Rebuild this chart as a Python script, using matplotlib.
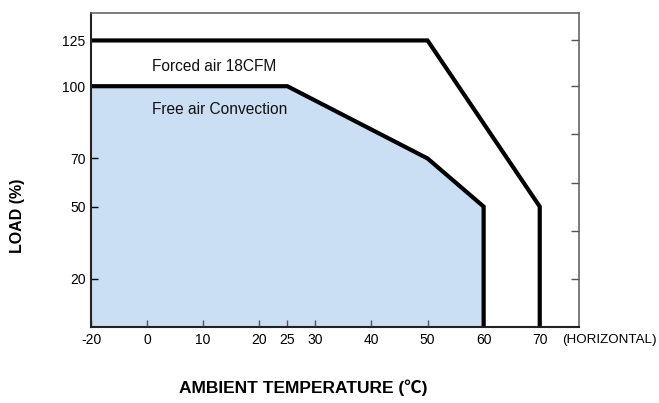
import numpy as np
import matplotlib
matplotlib.use("Agg")
import matplotlib.pyplot as plt

plt.rcParams['font.family'] = ['Liberation Sans', 'Noto Sans CJK SC', 'DejaVu Sans']

# derating curves (ambient temp in C, load in %)
forced_temp = [-20, 50, 70, 70]
forced_load = [125, 125, 50, 0]
free_temp = [-20, 25, 50, 60, 60]
free_load = [100, 100, 70, 50, 0]

x_ticks = [-20, 0, 10, 20, 25, 30, 40, 50, 60, 70]
y_ticks = [20, 50, 70, 100, 125]
y_ticks_right = [20, 40, 60, 80, 100, 125]

# the original chart squeezes -20..0 and 100..125
def fx(x):
    x = np.asarray(x, dtype=float)
    return np.where(x < 0, x / 2, x)

def fx_inv(x):
    x = np.asarray(x, dtype=float)
    return np.where(x < 0, x * 2, x)

def fy(y):
    y = np.asarray(y, dtype=float)
    return np.where(y > 100, 100 + (y - 100) * 0.76, y)

def fy_inv(y):
    y = np.asarray(y, dtype=float)
    return np.where(y > 100, 100 + (y - 100) / 0.76, y)

fig = plt.figure(figsize=(6.59, 4.03), dpi=100)
ax = fig.add_axes([91/659, 1 - 327/403, 488/659, 314/403])
ax.set_xscale('function', functions=(fx, fx_inv))
ax.set_yscale('function', functions=(fy, fy_inv))
ax.set_xlim(-20, 77)
ax.set_ylim(0, 140)

ax.fill_between(free_temp, free_load, 0, color='#cadff3', lw=0)
ax.plot(free_temp, free_load, color='black', lw=3.0, solid_joinstyle='miter')
ax.plot(forced_temp, forced_load, color='black', lw=3.0, solid_joinstyle='miter')

ax.text(0.8, 111, 'Forced air 18CFM', fontsize=11.2, va='center', ha='left',
        color='#111111')
ax.text(0.8, 90.5, 'Free air Convection', fontsize=11.2, va='center', ha='left',
        color='#111111')

ax.set_xticks(x_ticks)
ax.set_xticklabels([str(t) for t in x_ticks])
ax.set_yticks(y_ticks)
ax.set_yticklabels([str(t) for t in y_ticks])
ax.minorticks_off()
ax.tick_params(direction='in', length=5, width=1, labelsize=10, pad=4)
ax.tick_params(axis='x', colors='#555555', labelcolor='black')
ax.text(0.965, -0.041, '(HORIZONTAL)', transform=ax.transAxes, fontsize=9.6,
        ha='left', va='center')

for side in ['left', 'bottom']:
    ax.spines[side].set_color('#222222')
    ax.spines[side].set_linewidth(1.5)
for side in ['top', 'right']:
    ax.spines[side].set_color('#666666')
    ax.spines[side].set_linewidth(1.2)

ax2 = ax.twinx()
ax2.set_yscale('function', functions=(fy, fy_inv))
ax2.set_ylim(0, 140)
ax2.set_yticks(y_ticks_right)
ax2.set_yticklabels([])
ax2.minorticks_off()
ax2.tick_params(direction='in', length=6, width=1, colors='#555555')
for s in ax2.spines.values():
    s.set_visible(False)

fig.text(18/659, 1 - 216/403, 'LOAD (%)', rotation=90, fontsize=11.5,
         fontweight='bold', ha='center', va='center')
fig.text(303/659, 1 - 388/403, 'AMBIENT TEMPERATURE (℃)', fontsize=12.5,
         fontweight='bold', ha='center', va='center')

fig.savefig('out.png', dpi=100)
